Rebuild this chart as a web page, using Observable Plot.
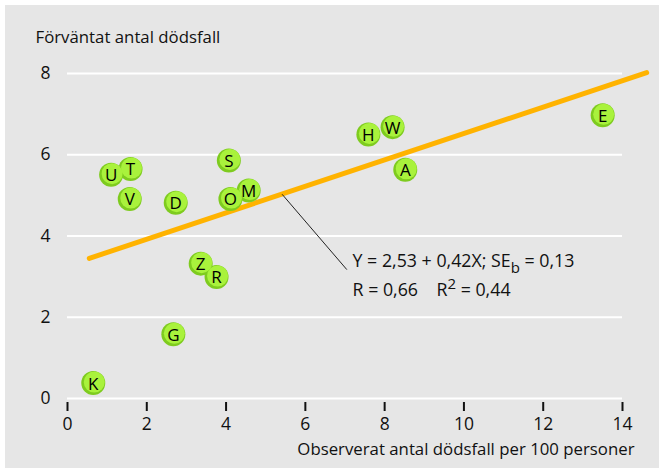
<!DOCTYPE html>
<html>
<head>
<meta charset="utf-8">
<script src="https://cdn.jsdelivr.net/npm/d3@7"></script>
<script src="https://cdn.jsdelivr.net/npm/@observablehq/plot@0.6"></script>
<style>
  html, body { margin: 0; padding: 0; background: #ffffff; }
  #wrap { position: relative; width: 659px; height: 468px; overflow: hidden; }
  #bg { position: absolute; left: 5px; top: 5px; right: 0; bottom: 0; background: #e6e6e6; }
  #chart { position: absolute; left: 0; top: 0; }
  #chart svg { background: transparent; }
</style>
</head>
<body>
<div id="wrap"><div id="bg"></div><div id="chart"></div></div>
<script>
// Data
const labels   = ["K", "G", "Z", "R", "U", "T", "V", "D", "S", "O", "M", "H", "W", "A", "E"];
const observed = [0.65, 2.67, 3.36, 3.76, 1.10, 1.59, 1.57, 2.73, 4.07, 4.11, 4.57, 7.59, 8.20, 8.52, 13.50];
const expected = [0.38, 1.58, 3.32, 2.99, 5.51, 5.65, 4.91, 4.82, 5.86, 4.91, 5.12, 6.50, 6.68, 5.63, 6.97];

const fitX = [0.55, 14.61];
const fitY = [3.45, 8.02];

const leaderX = [5.42, 7.04];
const leaderY = [5.02, 3.18];

const xTicks = [0, 2, 4, 6, 8, 10, 12, 14];
const yTicks = [0, 2, 4, 6, 8];

const titleText = "Förväntat antal dödsfall";
const xLabelText = "Observerat antal dödsfall per 100 personer";
const eqLine1 = "Y = 2,53 + 0,42X; SE_b_ = 0,13";
const eqLine2 = "R = 0,66    R^2^ = 0,44";
const eqX = 7.19;
const eqY = [3.37, 2.66];

const points = labels.map((l, i) => ({label: l, x: observed[i], y: expected[i]}));
const fit = fitX.map((x, i) => ({x, y: fitY[i]}));
const leader = leaderX.map((x, i) => ({x, y: leaderY[i]}));
const eqs = [eqLine1, eqLine2].map((t, i) => ({t, x: eqX, y: eqY[i]}));

const plot = Plot.plot({
  width: 659,
  height: 468,
  marginLeft: 67,
  marginRight: 37,
  marginTop: 73,
  marginBottom: 70,
  style: {fontFamily: "'Open Sans', sans-serif", fontSize: "17px", color: "#111", background: "transparent", overflow: "visible"},
  x: {domain: [0, 14], axis: null},
  y: {domain: [0, 8], axis: null},
  marks: [
    Plot.gridY(yTicks, {stroke: "#ffffff", strokeOpacity: 1, strokeWidth: 2}),
    Plot.axisY(yTicks, {tickSize: 0, tickPadding: 17, fontSize: 17.5, label: null, fill: "#111"}),
    Plot.axisX(xTicks, {tickSize: 9, strokeWidth: 2, stroke: "#111", dy: 4, tickPadding: 6, fontSize: 17.5, label: null, fill: "#111"}),
    Plot.line(fit, {x: "x", y: "y", stroke: "#ffb300", strokeWidth: 5}),
    Plot.line(leader, {x: "x", y: "y", stroke: "#222", strokeWidth: 1}),
    Plot.dot(points, {x: "x", y: "y", r: 12, fill: "#7ecb1f"}),
    Plot.dot(points, {x: "x", y: "y", r: 10.5, fill: "#a9f23c", dx: 1, dy: -1}),
    Plot.text(points, {x: "x", y: "y", text: "label", fontSize: 17, fill: "#000", dy: 1}),
    Plot.text(eqs, {x: "x", y: "y", text: "t", textAnchor: "start", fontSize: 17.8, fill: "#111"}),
    Plot.text([titleText], {frameAnchor: "top-left", dx: -32, dy: -42, textAnchor: "start", fontSize: 16.8, fill: "#111"}),
    Plot.text([xLabelText], {frameAnchor: "bottom-right", dx: 12, dy: 56, textAnchor: "end", fontSize: 16.8, fill: "#111"})
  ]
});

// subscript / superscript
const ns = "http://www.w3.org/2000/svg";
plot.querySelectorAll("text").forEach(t => {
  const s = t.textContent;
  let m = s.match(/^(.*)_(.)_(.*)$/) ? [s.match(/^(.*)_(.)_(.*)$/), 6]
        : s.match(/^(.*)\^(.)\^(.*)$/) ? [s.match(/^(.*)\^(.)\^(.*)$/), -7] : null;
  if (m) {
    const [parts, shift] = m;
    t.textContent = "";
    const a = document.createElementNS(ns, "tspan"); a.textContent = parts[1];
    const b = document.createElementNS(ns, "tspan"); b.textContent = parts[2]; b.setAttribute("dy", shift); b.setAttribute("font-size", "15");
    const c = document.createElementNS(ns, "tspan"); c.textContent = parts[3]; c.setAttribute("dy", -shift);
    t.append(a, b, c);
  }
});

document.getElementById("chart").append(plot);
</script>
</body>
</html>
